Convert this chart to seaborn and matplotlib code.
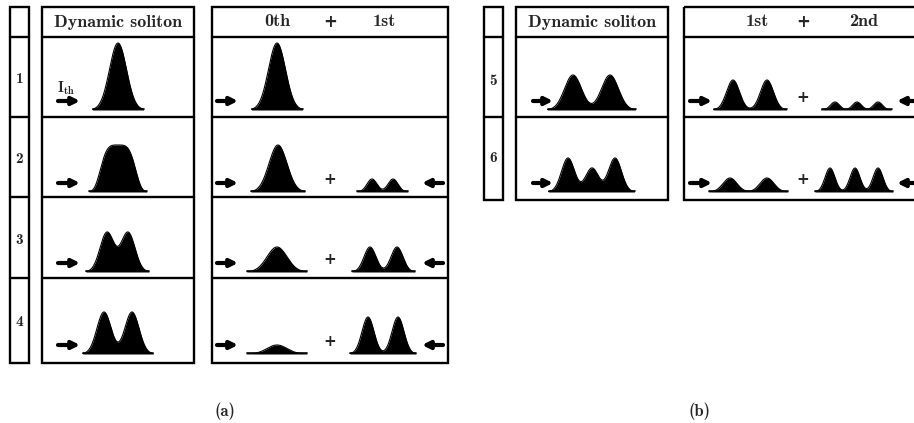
import numpy as np
import matplotlib
matplotlib.use("Agg")
import matplotlib.pyplot as plt
import seaborn as sns
from matplotlib.patches import Rectangle

sns.set_theme(style="white")
plt.rcParams["font.family"] = ["cmb10", "DejaVu Serif"]
plt.rcParams["mathtext.fontset"] = "cm"

W, H = 914, 423

# ---------------- data ----------------
header_dyn = "Dynamic soliton"
header_a = ["0th", "+", "1st"]
header_b = ["1st", "+", "2nd"]
rows_a = ["1", "2", "3", "4"]
rows_b = ["5", "6"]
captions = ["(a)", "(b)"]

# each pulse component: (centre, amplitude, width, shape exponent)
dyn_a = [
    [(118, 67, 8.5, 2)],
    [(118, 47, 16, 4)],
    [(107, 39.6, 7, 2), (128, 39.6, 7, 2)],
    [(104, 42, 7.1, 2), (132, 42, 7.1, 2)],
]
order0_a = [
    [(277, 67, 8.5, 2)],
    [(278, 47, 9, 2)],
    [(277, 25, 10, 2)],
    [(277, 9, 10, 2)],
]
order1_a = [
    [],
    [(372, 13, 5, 2), (393, 13, 5, 2)],
    [(370, 25, 6, 2), (397, 25, 6, 2)],
    [(368, 37, 6, 2), (398, 37, 6, 2)],
]
dyn_b = [
    [(573, 35, 8.5, 2), (610, 35, 8.5, 2)],
    [(568, 34, 6.5, 2), (592, 24, 6.5, 2), (615, 34, 6.5, 2)],
]
order1_b = [
    [(733, 30, 6.5, 2), (767, 30, 6.5, 2)],
    [(730, 14, 7, 2), (767, 14, 7, 2)],
]
order2_b = [
    [(835, 8, 4.5, 2), (857, 8, 4.5, 2), (878, 8, 4.5, 2)],
    [(830, 24, 5, 2), (855, 24, 5, 2), (878, 24, 5, 2)],
]

# ---------------- layout ----------------
row_edges_a = [7, 37, 117, 197, 278, 363]
row_edges_b = [7, 37, 117, 200]
baseline_a = [110, 192, 272, 354]
baseline_b = [110, 192]
cols_a = [(9.5, 29), (42, 194), (212, 448)]
cols_b = [(484, 503), (516, 668), (684, 920)]

LW = 1.7
HDR = 13

fig = plt.figure(figsize=(W / 100, H / 100), dpi=100)
ax = fig.add_axes([0, 0, 1, 1])
ax.set_xlim(0, W)
ax.set_ylim(H, 0)
ax.axis("off")


def draw_box(x0, x1, edges):
    ax.add_patch(Rectangle((x0, edges[0]), x1 - x0, edges[-1] - edges[0],
                           fill=False, lw=LW, ec="black"))
    for e in edges[1:-1]:
        ax.plot([x0, x1], [e, e], color="black", lw=LW)


for c in cols_a:
    draw_box(c[0], c[1], row_edges_a)
for c in cols_b:
    draw_box(c[0], c[1], row_edges_b)


def draw_pulse(comps, base):
    if not comps:
        return
    lo = min(c - (3.0 if p == 2 else 1.8) * s for c, a, s, p in comps)
    hi = max(c + (3.0 if p == 2 else 1.8) * s for c, a, s, p in comps)
    x = np.linspace(lo, hi, 400)
    y = np.zeros_like(x)
    for c, a, s, p in comps:
        y += a * np.exp(-0.5 * (np.abs(x - c) / s) ** p)
    yy = base - y
    ax.fill_between(x, base, yy, color="black", lw=0)
    sns.lineplot(x=x, y=yy, ax=ax, color="black", lw=0.8, sort=False)
    ax.plot([lo, hi], [base - 0.5, base - 0.5], color="black", lw=1.2)


def arrow(x0, x1, y):
    ax.annotate("", xy=(x1, y), xytext=(x0, y),
                arrowprops=dict(arrowstyle="-|>", lw=3.0, color="black",
                                mutation_scale=11, shrinkA=0, shrinkB=0))


def plus(x, y, size=11):
    ax.text(x, y, "+", ha="center", va="center", fontsize=size,
            family="DejaVu Sans", fontweight="bold")


# panel (a)
for i in range(4):
    b = baseline_a[i]
    draw_pulse(dyn_a[i], b)
    draw_pulse(order0_a[i], b)
    draw_pulse(order1_a[i], b)
    ay = b - 9
    arrow(58, 80, ay)
    arrow(217, 238, ay)
    if i > 0:
        arrow(443, 422, ay)
        plus(330, b - 13)

# panel (b)
for i in range(2):
    b = baseline_b[i]
    draw_pulse(dyn_b[i], b)
    draw_pulse(order1_b[i], b)
    draw_pulse(order2_b[i], b)
    ay = b - 9
    arrow(533, 553, ay)
    arrow(690, 712, ay)
    arrow(917, 897, ay)
    plus(803, b - 13)

# headers
ax.text(118, 22, header_dyn, ha="center", va="center", fontsize=HDR)
ax.text(592, 22, header_dyn, ha="center", va="center", fontsize=HDR)
for t, x in zip(header_a, [277, 330, 384]):
    if t == "+":
        plus(x, 22, 12)
    else:
        ax.text(x, 22, t, ha="center", va="center", fontsize=HDR)
for t, x in zip(header_b, [757, 803, 864]):
    if t == "+":
        plus(x, 22, 12)
    else:
        ax.text(x, 22, t, ha="center", va="center", fontsize=HDR)

# row labels
for t, y in zip(rows_a, [79, 159, 240, 322]):
    ax.text(19.5, y, t, ha="center", va="center", fontsize=11)
for t, y in zip(rows_b, [81, 158]):
    ax.text(493.5, y, t, ha="center", va="center", fontsize=11)

# threshold label
ax.text(57, 88, r"$\mathbf{I}_{\mathbf{th}}$", ha="left", va="center", fontsize=10.5)

# captions
ax.text(225, 411, captions[0], ha="center", va="center", fontsize=12)
ax.text(699, 411, captions[1], ha="center", va="center", fontsize=12)

fig.savefig("out.png", dpi=100)
